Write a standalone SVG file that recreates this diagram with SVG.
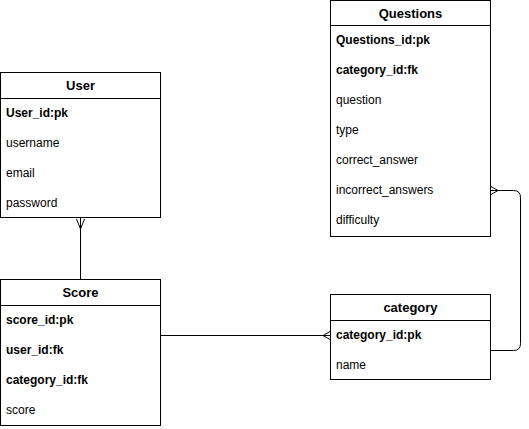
<svg xmlns="http://www.w3.org/2000/svg" width="529" height="429" viewBox="0 0 529 429">
<style>
.box{fill:#fff;stroke:#000;stroke-width:1}
.hd{font-family:"Liberation Sans",Arial,sans-serif;font-size:13px;font-weight:bold;fill:#000;text-anchor:middle}
.r{font-family:"Liberation Sans",Arial,sans-serif;font-size:12px;fill:#000}
.b{font-weight:bold}
.ln{fill:none;stroke:#000;stroke-width:1}
</style>
<rect width="529" height="429" fill="#fff"/>
<g id="connectors">
  <path class="ln" d="M80.5,218 V279"/>
  <path class="ln" d="M76.5,219 L80.5,229 L84.5,219"/>
  <path class="ln" d="M161,335.5 H330"/>
  <path class="ln" d="M330,331.5 L323,335.5 L330,339.5"/>
  <path class="ln" d="M491,350.5 H513.5 Q520.5,350.5 520.5,343.5 V197.5 Q520.5,190.5 513.5,190.5 H491"/>
  <path class="ln" d="M491,186.5 L498,190.5 L491,194.5"/>
</g>
<g id="User">
  <rect class="box" x="0.5" y="72.5" width="160" height="145"/>
  <line class="ln" x1="0.5" y1="98.5" x2="160.5" y2="98.5"/>
  <text class="hd" x="80.5" y="90">User</text>
  <text class="r b" x="6" y="117">User_id:pk</text>
  <text class="r" x="6" y="147">username</text>
  <text class="r" x="6" y="177">email</text>
  <text class="r" x="6" y="207">password</text>
</g>
<g id="Score">
  <rect class="box" x="0.5" y="279.5" width="160" height="146"/>
  <line class="ln" x1="0.5" y1="305.5" x2="160.5" y2="305.5"/>
  <text class="hd" x="80.5" y="297">Score</text>
  <text class="r b" x="6" y="324">score_id:pk</text>
  <text class="r b" x="6" y="354">user_id:fk</text>
  <text class="r b" x="6" y="384">category_id:fk</text>
  <text class="r" x="6" y="414">score</text>
</g>
<g id="Questions">
  <rect class="box" x="330.5" y="0.5" width="160" height="236"/>
  <line class="ln" x1="330.5" y1="25.5" x2="490.5" y2="25.5"/>
  <text class="hd" x="410.5" y="18">Questions</text>
  <text class="r b" x="336" y="44">Questions_id:pk</text>
  <text class="r b" x="336" y="74">category_id:fk</text>
  <text class="r" x="336" y="104">question</text>
  <text class="r" x="336" y="134">type</text>
  <text class="r" x="336" y="164">correct_answer</text>
  <text class="r" x="336" y="194">incorrect_answers</text>
  <text class="r" x="336" y="224">difficulty</text>
</g>
<g id="category">
  <rect class="box" x="330.5" y="294.5" width="160" height="85"/>
  <line class="ln" x1="330.5" y1="320.5" x2="490.5" y2="320.5"/>
  <text class="hd" x="410.5" y="312">category</text>
  <text class="r b" x="336" y="339">category_id:pk</text>
  <text class="r" x="336" y="369">name</text>
</g>
</svg>
